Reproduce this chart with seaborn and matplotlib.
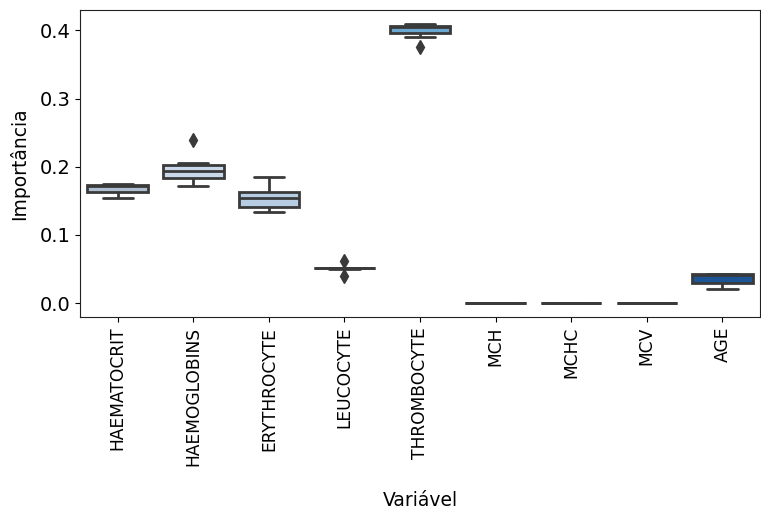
import numpy as np
import pandas as pd
import seaborn as sns
import matplotlib
matplotlib.use("Agg")
import matplotlib.pyplot as plt

categories = ["HAEMATOCRIT", "HAEMOGLOBINS", "ERYTHROCYTE", "LEUCOCYTE",
              "THROMBOCYTE", "MCH", "MCHC", "MCV", "AGE"]

haematocrit = [0.154, 0.160, 0.163, 0.164, 0.171, 0.172, 0.172, 0.173, 0.174, 0.175]
haemoglobins = [0.172, 0.178, 0.182, 0.186, 0.191, 0.195, 0.200, 0.203, 0.205, 0.239]
erythrocyte = [0.134, 0.137, 0.139, 0.144, 0.151, 0.157, 0.161, 0.164, 0.172, 0.185]
leucocyte = [0.040, 0.0505, 0.0508, 0.051, 0.051, 0.051, 0.0512, 0.0515, 0.0515, 0.062]
thrombocyte = [0.376, 0.390, 0.396, 0.398, 0.405, 0.406, 0.406, 0.407, 0.408, 0.409]
mch = [0.0] * 10
mchc = [0.0] * 10
mcv = [0.0] * 10
age = [0.020, 0.027, 0.029, 0.031, 0.041, 0.042, 0.042, 0.042, 0.042, 0.042]

series = [haematocrit, haemoglobins, erythrocyte, leucocyte, thrombocyte,
          mch, mchc, mcv, age]

box_colors = ["#aebfd2", "#c9d9ea", "#b7cde3", "#c5d3e2", "#6aa8d0",
              "#f2f6fb", "#f2f6fb", "#f2f6fb", "#1c5596"]

rows = []
for cat, vals in zip(categories, series):
    for v in vals:
        rows.append({"Variável": cat, "Importância": v})
df = pd.DataFrame(rows)

sns.set_style("ticks")
plt.rcParams['font.family'] = ['DejaVu Sans']
plt.rcParams['text.color'] = 'black'
plt.rcParams['axes.labelcolor'] = 'black'
plt.rcParams['xtick.color'] = 'black'
plt.rcParams['ytick.color'] = 'black'

fig = plt.figure(figsize=(7.61, 5.13), dpi=100)
ax = fig.add_axes([0.105, 0.382, 0.894, 0.598])

sns.boxplot(data=df, x="Variável", y="Importância", hue="Variável",
            order=categories, hue_order=categories,
            palette=dict(zip(categories, box_colors)), legend=False,
            saturation=1, linewidth=2, linecolor="#3a3a3a", width=0.8,
            flierprops=dict(marker="d", markersize=7, markerfacecolor="#3a3a3a",
                            markeredgecolor="#3a3a3a"),
            ax=ax)

ax.set_yticks([0.0, 0.1, 0.2, 0.3, 0.4])
ax.tick_params(axis="x", labelrotation=90, labelsize=12.3)
ax.tick_params(axis="y", labelsize=14)
ax.set_xlabel("Variável", fontsize=13.5, labelpad=18)
ax.set_ylabel("Importância", fontsize=13.5, labelpad=7)
for s in ax.spines.values():
    s.set_visible(True)
    s.set_color("#222222")

fig.savefig("out.png", dpi=100)
